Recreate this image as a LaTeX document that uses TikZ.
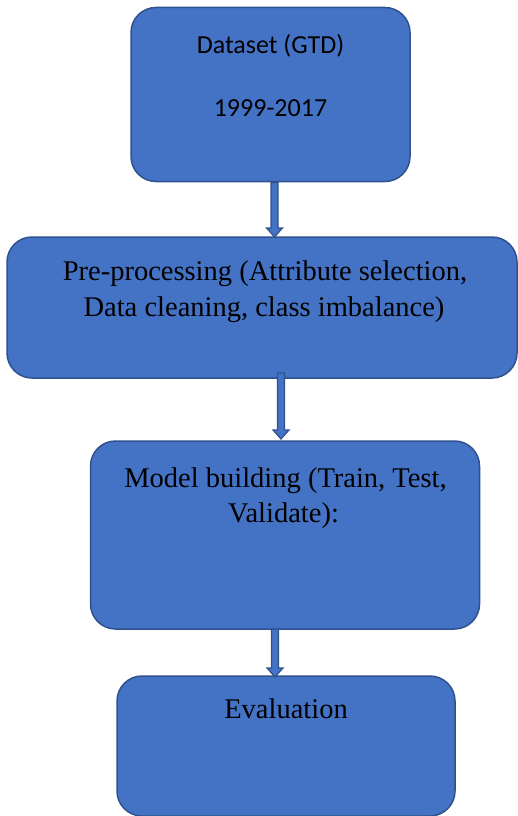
\documentclass[tikz,border=0pt]{standalone}
\usepackage{fontspec}
\setmainfont{Liberation Serif}
\newfontfamily\carlito{Carlito}
\usetikzlibrary{calc}
\definecolor{boxfill}{HTML}{4472C4}
\definecolor{boxline}{HTML}{2F528F}
\tikzset{
  box/.style={draw=boxline, fill=boxfill, line width=1.5pt, rounded corners=25pt, inner sep=0pt, outer sep=0pt},
  blockarr/.style={draw=boxline, fill=boxfill, line width=1.2pt, line join=miter},
  sanstxt/.style={anchor=base, inner sep=0pt, font=\carlito\fontsize{26}{32}\selectfont},
  seriftxt/.style={anchor=base, inner sep=0pt, font=\fontsize{28.5}{36}\selectfont}
}
\newcommand\blockarrow[2]{%
  \path #1 coordinate (s) #2 coordinate (e);
  \filldraw[blockarr] ($(s)+(-3.5,0)$) -- ($(e)+(-3.5,-9)$) -- ($(e)+(-8,-9)$) -- (e)
    -- ($(e)+(8,-9)$) -- ($(e)+(3.5,-9)$) -- ($(s)+(3.5,0)$) -- cycle;}
\begin{document}
\begin{tikzpicture}[x=1pt,y=-1pt]
\useasboundingbox (0,0) rectangle (518,816);
\node[box, minimum width=279pt, minimum height=174pt] (b1) at (270.5,94.5) {};
\node[box, minimum width=510pt, minimum height=141pt] (b2) at (262,307.5) {};
\node[box, minimum width=389pt, minimum height=188pt] (b3) at (285,535) {};
\node[box, minimum width=338pt, minimum height=140pt] (b4) at (286,746) {};
\node[sanstxt] (t1a) at (270.5,53) {Dataset (GTD)};
\node[sanstxt] (t1b) at (270.5,116) {1999-2017};
\node[seriftxt] (t2a) at (265,280) {Pre-processing (Attribute selection,};
\node[seriftxt] (t2b) at (264,316) {Data cleaning, class imbalance)};
\node[seriftxt] (t3a) at (285.5,487) {Model building (Train, Test,};
\node[seriftxt] (t3b) at (283.5,522) {Validate):};
\node[seriftxt] (t4) at (286,718) {Evaluation};
\blockarrow{($(b1.south)+(4,1)$)}{($(b2.north)+(12.5,0)$)}
\blockarrow{($(b2.south)+(19,-5)$)}{($(b3.north)+(-4,-2)$)}
\blockarrow{($(b3.south)+(-10,0)$)}{($(b4.north)+(-11,1)$)}
\end{tikzpicture}
\end{document}
